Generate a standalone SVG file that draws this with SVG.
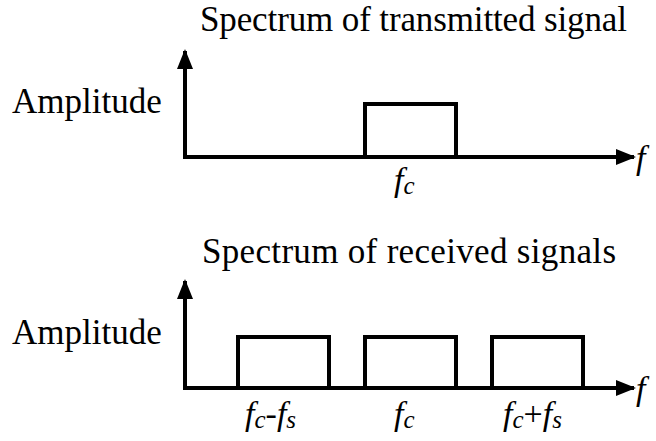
<svg xmlns="http://www.w3.org/2000/svg" width="656" height="441" viewBox="0 0 656 441">
<style>
.t{font-family:'Liberation Serif','DejaVu Serif',serif;font-size:35px;fill:#000}
.i{font-style:italic;font-size:34px}
.s{font-size:25px}
.n{font-style:normal}
.ax{stroke:#000;stroke-width:4;fill:none}
.bx{stroke:#000;stroke-width:4;fill:none}
</style>
<defs>
<marker id="ah" markerWidth="5" markerHeight="4" refX="4.5" refY="2" orient="auto" markerUnits="strokeWidth">
<path d="M0,0 L5,2 L0,4 Z" fill="#000"/>
</marker>
</defs>
<rect width="656" height="441" fill="#fff"/>
<text class="t" x="200" y="31" textLength="427">Spectrum of transmitted signal</text>
<text class="t" x="202" y="263" textLength="414">Spectrum of received signals</text>
<text class="t" x="12" y="113">Amplitude</text>
<text class="t" x="12" y="344">Amplitude</text>
<g id="connectors">
<path class="ax" d="M185,159 V51" marker-end="url(#ah)"/>
<path class="ax" d="M183,157 H634" marker-end="url(#ah)"/>
<path class="ax" d="M185,390 V281" marker-end="url(#ah)"/>
<path class="ax" d="M183,388 H634" marker-end="url(#ah)"/>
</g>
<g id="box-top"><rect class="bx" x="365" y="104" width="91" height="53"/></g>
<g id="box-b1"><rect class="bx" x="238" y="337" width="91" height="51"/></g>
<g id="box-b2"><rect class="bx" x="365" y="337" width="91" height="51"/></g>
<g id="box-b3"><rect class="bx" x="492" y="337" width="91" height="51"/></g>
<text class="t i" x="636" y="169">f</text>
<text class="t i" x="636" y="400">f</text>
<text class="t i" x="394" y="191">f<tspan class="s" dy="3">c</tspan></text>
<text class="t i" x="245" y="425">f<tspan class="s" dy="3">c</tspan><tspan class="n" dy="-3">-</tspan>f<tspan class="s" dy="3">s</tspan></text>
<text class="t i" x="394" y="425">f<tspan class="s" dy="3">c</tspan></text>
<text class="t i" x="503" y="425">f<tspan class="s" dy="3">c</tspan><tspan class="n" dy="-3">+</tspan>f<tspan class="s" dy="3">s</tspan></text>
</svg>
